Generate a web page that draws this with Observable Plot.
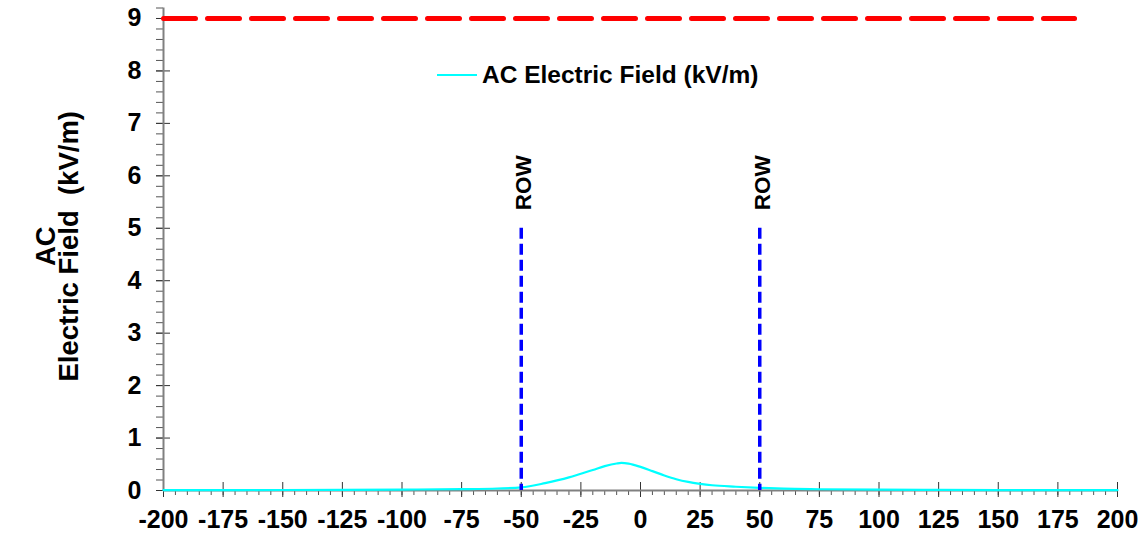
<!DOCTYPE html>
<html><head><meta charset="utf-8">
<script src="https://cdn.jsdelivr.net/npm/d3@7"></script>
<script src="https://cdn.jsdelivr.net/npm/@observablehq/plot@0.6"></script>
<style>
body{margin:0;background:#fff;}
#wrap{position:relative;width:1141px;height:536px;font-family:"Liberation Sans",Arial,sans-serif;}
#legend{position:absolute;left:437px;top:61px;display:flex;align-items:center;font-size:24.5px;font-weight:bold;color:#000;white-space:nowrap;}
#legend .sw{display:inline-block;width:40px;height:2px;background:#00ffff;margin-right:5px;}
</style>
</head><body>
<div id="wrap"><div id="chart"></div><div id="legend"><span class="sw"></span><span id="legtext"></span></div></div>
<script>
// Data
const distance = [-200, -175, -150, -125, -100, -75, -60, -50, -40, -30, -25, -20, -15, -10, -8, -5, 0, 5, 10, 15, 20, 25, 30, 40, 50, 60, 75, 100, 125, 150, 175, 200];
const field    = [0.006, 0.008, 0.010, 0.013, 0.018, 0.026, 0.038, 0.058, 0.14, 0.25, 0.32, 0.39, 0.465, 0.515, 0.525, 0.512, 0.45, 0.37, 0.287, 0.215, 0.163, 0.127, 0.10, 0.072, 0.05, 0.034, 0.024, 0.015, 0.011, 0.008, 0.007, 0.006];
const xTicks = [-200, -175, -150, -125, -100, -75, -50, -25, 0, 25, 50, 75, 100, 125, 150, 175, 200];
const yTicks = [0, 1, 2, 3, 4, 5, 6, 7, 8, 9];
const rowEdges = [-50, 50];
const rowTop = 5;
const limitValue = 9;
const limitStart = -200;
const limitEnd = 182;
const legendLabel = "AC Electric Field (kV/m)";
const yTitle = "AC\nElectric Field  (kV/m)";
const rowLabel = "ROW";

const data = distance.map((d, i) => ({x: d, y: field[i]}));
const limit = [{x: limitStart, y: limitValue}, {x: limitEnd, y: limitValue}];
const xMinor = d3.range(0, 81).map(i => -200 + i * 5);
const yMinor = d3.range(0, 47).map(i => i / 5);
const font = "'Liberation Sans', Arial, sans-serif";
const blank = () => "";

const chart = Plot.plot({
  width: 1141, height: 536,
  marginLeft: 163, marginRight: 24, marginTop: 7.5, marginBottom: 46,
  style: {fontFamily: font, background: "#fff", overflow: "visible", color: "#000"},
  x: {domain: [-200, 200], label: null},
  y: {domain: [0, 9.2], label: null},
  marks: [
    // minor ticks
    Plot.axisY(yMinor, {tickSize: 7, tickFormat: blank, stroke: "#555", label: null}),
    Plot.axisX(xMinor, {tickSize: 5, tickFormat: blank, stroke: "#555", label: null}),
    // major ticks crossing the axis
    Plot.axisY(yTicks, {tickSize: 14, dx: 7, tickFormat: blank, stroke: "#333", label: null}),
    Plot.axisX(xTicks, {tickSize: 15, dy: -8, tickFormat: blank, stroke: "#333", label: null}),
    // tick labels
    Plot.axisY(yTicks, {tickSize: 0, tickPadding: 22, fontSize: 25, fontWeight: "bold", fill: "#000", tickFormat: d => String(d), label: null}),
    Plot.axisX(xTicks, {tickSize: 0, tickPadding: 20, fontSize: 25, fontWeight: "bold", fill: "#000", tickFormat: d => String(d), label: null}),
    // axis lines
    Plot.ruleX([-200], {y1: 0, y2: 9.2, stroke: "#808080", strokeWidth: 2}),
    Plot.ruleY([0], {x1: -200, x2: 200, stroke: "#808080", strokeWidth: 2}),
    // limit line
    Plot.line(limit, {x: "x", y: "y", stroke: "#ff0000", strokeWidth: 5, strokeDasharray: "32,12"}),
    // field curve
    Plot.line(data, {x: "x", y: "y", stroke: "#00ffff", strokeWidth: 2.2, curve: "monotone-x"}),
    // ROW edges
    Plot.ruleX(rowEdges, {x: d => d, y1: rowTop, y2: 0, stroke: "#0000ff", strokeWidth: 3.5, strokeDasharray: "11,5"}),
    Plot.text(rowEdges, {x: d => d, y: rowTop, text: () => rowLabel, rotate: -90, textAnchor: "start", lineAnchor: "middle", dy: -18, dx: 3, fontSize: 22.5, fontWeight: "bold", fill: "#000"}),
    // y axis title
    Plot.text([yTitle], {frameAnchor: "left", text: d => d, rotate: -90, textAnchor: "middle", lineAnchor: "middle", lineHeight: 0.82, dx: -104, dy: -3, fontSize: 27.5, fontWeight: "bold", fill: "#000"})
  ]
});
document.getElementById("chart").appendChild(chart);
document.getElementById("legtext").textContent = legendLabel;
</script>
</body></html>
